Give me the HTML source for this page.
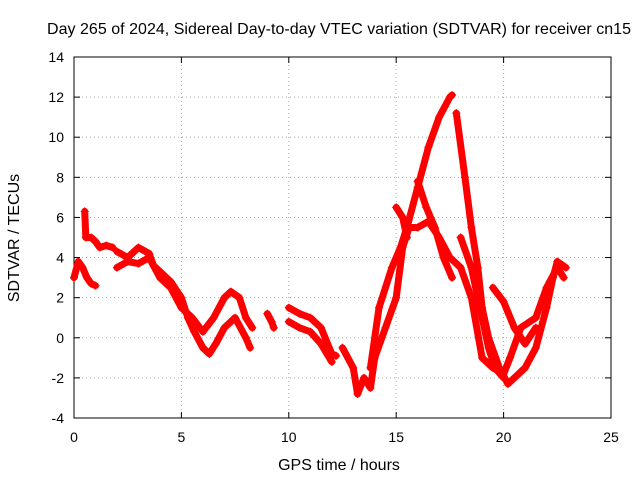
<!DOCTYPE html>
<html><head><meta charset="utf-8"><style>
body{margin:0;background:#fff}
svg{display:block;font-family:"Liberation Sans",sans-serif;font-size:14px}
.big{font-size:16px}
</style></head><body>
<svg id="chart" width="640" height="480">
<text class="big" x="339" y="34" text-anchor="middle" textLength="584">Day 265 of 2024, Sidereal Day-to-day VTEC variation (SDTVAR) for receiver cn15</text>
<text class="big" x="339" y="470" text-anchor="middle">GPS time / hours</text>
<text class="big" transform="translate(19,238) rotate(-90)" text-anchor="middle">SDTVAR / TECUs</text>
<g id="grid"></g><g id="axes"></g><g id="marks"></g>
</svg>
<script>
const xTicks=[0,5,10,15,20,25];
const yTicks=[-4,-2,0,2,4,6,8,10,12,14];
const tracks=[
[[0.0,3.0],[0.2,3.8],[0.4,3.5],[0.6,3.0],[0.8,2.7],[1.0,2.6]],
[[0.5,6.3],[0.55,5.0],[0.8,5.0],[1.0,4.8],[1.2,4.5],[1.5,4.6],[1.8,4.5]],
[[2.0,4.3],[2.5,4.0],[3.0,4.5],[3.5,4.2],[3.7,3.6],[4.0,3.3],[4.5,2.8],[5.0,2.0],[5.3,1.0],[5.6,0.3],[6.0,-0.5],[6.3,-0.8],[6.6,-0.3],[7.0,0.5],[7.5,1.0],[8.0,0.0],[8.2,-0.5]],
[[2.0,3.5],[2.5,3.8],[3.0,3.7],[3.5,4.0],[4.0,3.0],[4.5,2.5],[5.0,1.5],[5.5,1.0],[6.0,0.3],[6.5,1.0],[7.0,2.0],[7.3,2.3],[7.7,2.0],[8.0,1.0],[8.3,0.5]],
[[9.0,1.2],[9.2,0.8],[9.3,0.5]],
[[10.0,1.5],[10.5,1.2],[11.0,1.0],[11.5,0.5],[12.0,-0.8],[12.2,-0.9]],
[[10.0,0.8],[10.5,0.5],[11.0,0.3],[11.5,-0.3],[12.0,-1.2]],
[[12.5,-0.5],[13.0,-1.5],[13.2,-2.8],[13.5,-2.0],[13.8,-2.5],[14.0,-1.0],[14.5,0.5],[15.0,2.0],[15.3,4.5],[15.6,5.5],[16.0,5.5],[16.5,5.8],[17.0,5.0],[17.5,4.0],[18.0,3.5],[18.5,2.0],[19.0,-1.0],[19.5,-1.5],[20.0,-1.8],[20.3,-1.0],[20.8,0.5],[21.5,1.0],[22.0,2.5],[22.5,3.5],[22.8,3.0]],
[[13.8,-1.5],[14.2,1.5],[14.8,3.5],[15.2,4.5],[15.5,5.5],[16.0,7.5],[16.5,9.5],[17.0,11.0],[17.5,12.0],[17.6,12.1]],
[[15.0,6.5],[15.3,6.0],[15.5,5.0]],
[[16.0,7.8],[16.4,6.5],[16.8,5.5],[17.2,4.0],[17.6,3.0]],
[[17.8,11.2],[18.2,8.0],[18.5,5.5],[18.8,3.5],[19.0,1.5],[19.3,0.0],[19.8,-1.5],[20.2,-2.3],[20.5,-2.0],[21.0,-1.5],[21.5,-0.5],[22.0,1.5],[22.3,3.0],[22.5,3.8],[22.9,3.5]],
[[18.0,5.0],[18.5,3.5],[19.0,1.0],[19.3,-0.5],[19.6,-1.5],[20.0,-2.0]],
[[19.5,2.5],[20.0,1.8],[20.5,0.5],[21.0,-0.3],[21.5,0.5]]
];
const X0=74,X1=611,Y0=418,Y1=57;
const sx=v=>X0+(v-0)/(25-0)*(X1-X0);
const sy=v=>Y0-(v+4)/(18)*(Y0-Y1);
const NS="http://www.w3.org/2000/svg";
function mk(t,a,p){const e=document.createElementNS(NS,t);for(const k in a)e.setAttribute(k,a[k]);p.appendChild(e);return e;}
const grid=document.getElementById('grid'),axes=document.getElementById('axes'),marks=document.getElementById('marks');
xTicks.forEach(t=>{
 const x=sx(t);
 if(t>0&&t<25){const g=mk('line',{x1:x,x2:x,y1:Y1,y2:Y0,stroke:'#aaa','stroke-dasharray':'1,3'},grid);
 
 }
 mk('line',{x1:x,x2:x,y1:Y0,y2:Y0-6,stroke:'#000'},axes);
 mk('line',{x1:x,x2:x,y1:Y1,y2:Y1+6,stroke:'#000'},axes);
 const l=mk('text',{x:x,y:Y0+24,'text-anchor':'middle'},axes);l.textContent=t;
 
 
});
yTicks.forEach(t=>{
 const y=sy(t);
 if(t>-4&&t<14){const g=mk('line',{x1:X0,x2:X1,y1:y,y2:y,stroke:'#aaa','stroke-dasharray':'1,3'},grid);
 
 }
 mk('line',{x1:X0,x2:X0+6,y1:y,y2:y,stroke:'#000'},axes);
 mk('line',{x1:X1,x2:X1-6,y1:y,y2:y,stroke:'#000'},axes);
 const l=mk('text',{x:X0-10,y:y+5,'text-anchor':'end'},axes);l.textContent=t;
 
 
});
const fr=mk('rect',{x:X0,y:Y1,width:X1-X0,height:Y0-Y1,fill:'none',stroke:'#000'},axes);


tracks.forEach(tr=>{
 const pl=mk('polyline',{points:tr.map(p=>sx(p[0])+','+sy(p[1])).join(' '),fill:'none',stroke:'#f00','stroke-width':7,'stroke-linejoin':'round','stroke-linecap':'round'},marks);
 
 
 tr.forEach(p=>{
  const x=sx(p[0]),y=sy(p[1]);
  const m=mk('path',{d:`M${x-4},${y}H${x+4}M${x},${y-4}V${y+4}`,stroke:'#f00','stroke-width':1.2},marks);
  
  
 });
});
</script>
</body></html>
